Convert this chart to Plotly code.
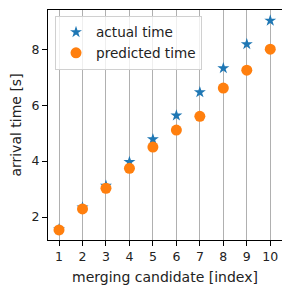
import plotly.graph_objects as go

candidates = [1, 2, 3, 4, 5, 6, 7, 8, 9, 10]
actual_time = [1.56, 2.34, 3.12, 3.97, 4.78, 5.63, 6.46, 7.32, 8.18, 9.02]
predicted_time = [1.54, 2.29, 3.03, 3.74, 4.50, 5.11, 5.60, 6.61, 7.25, 8.00]
y_ticks = [2, 4, 6, 8]

font = dict(family="DejaVu Sans", size=12, color="#222")

fig = go.Figure()
fig.add_trace(go.Scatter(
    x=candidates, y=actual_time, mode="markers", name="actual time",
    marker=dict(symbol="star", size=9, color="#1f77b4", line=dict(width=0)),
))
fig.add_trace(go.Scatter(
    x=candidates, y=predicted_time, mode="markers", name="predicted time",
    marker=dict(symbol="circle", size=11, color="#ff7f0e", line=dict(width=0)),
))

# page body has an 8px margin, so the figure is drawn 8px in from the top-left
fig.update_layout(
    width=282, height=286,
    margin=dict(l=40, r=8, t=2, b=54),
    paper_bgcolor="white", plot_bgcolor="white",
    font=font,
    showlegend=True,
    legend=dict(
        x=0.03, y=0.975, xanchor="left", yanchor="top",
        bgcolor="rgba(255,255,255,0.8)", bordercolor="#d0d0d0", borderwidth=1,
        font=dict(family="DejaVu Sans", size=13.6, color="#222"),
        tracegroupgap=0, itemsizing="trace",
    ),
    xaxis=dict(
        range=[0.53, 10.5], tickmode="array", tickvals=candidates,
        ticktext=[str(c) for c in candidates],
        showgrid=True, gridcolor="#b0b0b0", gridwidth=1,
        showline=True, linecolor="black", linewidth=1, mirror=True,
        ticks="outside", ticklen=5, tickcolor="black", zeroline=False,
        automargin=False, tickfont=dict(size=12.5),
        title=dict(text="merging candidate [index]", standoff=9),
    ),
    yaxis=dict(
        range=[1.18, 9.40], tickmode="array", tickvals=y_ticks,
        showgrid=False,
        showline=True, linecolor="black", linewidth=1, mirror=True,
        ticks="outside", ticklen=5, tickcolor="black", zeroline=False,
        automargin=False, tickfont=dict(size=12.5),
        title=dict(text="arrival time [s]", standoff=6),
    ),
)

fig.write_html("out.html")
